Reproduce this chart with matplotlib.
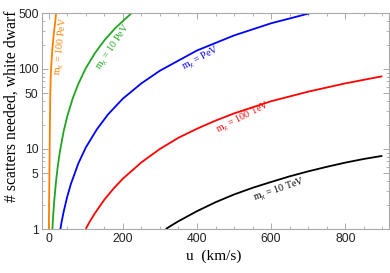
import matplotlib
matplotlib.use("Agg")
import matplotlib.pyplot as plt
from matplotlib.ticker import FixedLocator, NullFormatter

# u (km/s) and number of scatters needed for each dark-matter mass
u_100PeV = [0.5, 1.5, 2.7, 4.0, 5.5, 7.0, 10.0, 14.0, 18.0, 20.0]
n_100PeV = [1.0, 3.0, 10.0, 40.0, 80.0, 110.0, 180.0, 280.0, 400.0, 500.0]

u_10PeV = [10, 11, 12.5, 15, 20, 25, 30, 40, 50, 65, 80, 100, 125, 150, 180, 224]
n_10PeV = [1, 1.21, 1.56, 2.25, 4, 6.3, 9.1, 16.3, 25.5, 43, 65, 102, 158, 227, 325, 500]

u_1PeV = [31.6, 35, 40, 50, 60, 80, 100, 130, 160, 200, 250, 300, 400, 500, 600, 707]
n_1PeV = [1, 1.23, 1.61, 2.53, 3.66, 6.6, 10.4, 17.6, 27, 42.5, 66, 95, 170, 262, 372, 500]

u_100TeV = [100, 110, 125, 150, 175, 200, 250, 300, 350, 400, 450, 500, 600, 700, 800, 900]
n_100TeV = [1, 1.22, 1.58, 2.32, 3.2, 4.25, 6.8, 10, 13.8, 17.9, 22.6, 27.8, 39.5, 52, 66, 81]

u_10TeV = [316, 330, 350, 400, 450, 500, 550, 600, 650, 700, 750, 800, 850, 900]
n_10TeV = [1.0, 1.1, 1.25, 1.67, 2.16, 2.7, 3.27, 3.87, 4.55, 5.25, 5.98, 6.75, 7.5, 8.2]

x_major = [0, 200, 400, 600, 800]
y_major = [1, 5, 10, 50, 100, 500]
y_labels = ["1", "5", "10", "50", "100", "500"]

series = [
    (u_100PeV, n_100PeV, "#ff8000", r"$\mathregular{m_\chi}$ = 100 PeV", (62, 46), 84),
    (u_10PeV, n_10PeV, "#1fa51f", r"$\mathregular{m_\chi}$ = 10 PeV", (114, 47), 56),
    (u_1PeV, n_1PeV, "#0000ff", r"$\mathregular{m_\chi}$ = PeV", (201, 59), 28),
    (u_100TeV, n_100TeV, "#ff0000", r"$\mathregular{m_\chi}$ = 100 TeV", (243, 118), 27),
    (u_10TeV, n_10TeV, "#000000", r"$\mathregular{m_\chi}$ = 10 TeV", (279, 190), 19),
]

plt.rcParams["mathtext.fontset"] = "stix"
fig = plt.figure(figsize=(3.9, 2.73), dpi=100)
W, H = 390, 273
ax = fig.add_axes([42 / W, 1 - 229 / H, (389 - 42) / W, (229 - 13) / H])
ax.set_yscale("log")
ax.set_xlim(-18, 918)
ax.set_ylim(1, 500)

for u, n, c, lab, pos, rot in series:
    ax.plot(u, n, color=c, lw=1.3, solid_capstyle="butt")
    fig.text(pos[0] / W, 1 - pos[1] / H, lab, color=c, rotation=rot,
             rotation_mode="anchor", ha="center", va="center",
             fontsize=7.2, family="Liberation Serif")

# ticks
ax.xaxis.set_major_locator(FixedLocator(x_major))
ax.xaxis.set_minor_locator(FixedLocator([v for v in range(0, 901, 50) if v % 200 != 0]))
ax.yaxis.set_major_locator(FixedLocator(y_major))
ax.set_yticklabels(y_labels)
minor_y = [2, 3, 4, 6, 7, 8, 9, 20, 30, 40, 60, 70, 80, 90, 200, 300, 400]
ax.yaxis.set_minor_locator(FixedLocator(minor_y))
ax.yaxis.set_minor_formatter(NullFormatter())

for sp in ax.spines.values():
    sp.set_color("#aaaaaa")
    sp.set_linewidth(0.8)
ax.tick_params(which="both", direction="in", top=True, right=True,
               colors="#aaaaaa", labelcolor="#222222", labelsize=8.7)
ax.tick_params(which="major", length=4, width=0.7)
ax.tick_params(which="minor", length=2, width=0.6)
ax.tick_params(axis="x", pad=3)
ax.tick_params(axis="y", pad=2.5)
for t in ax.get_xticklabels() + ax.get_yticklabels():
    t.set_family("Liberation Sans")

fig.text(214 / W, 1 - 256 / H, "u  (km/s)", family="Liberation Serif",
         fontsize=11, ha="center", va="center")
fig.text(12 / W, 1 - 106 / H, "# scatters needed, white dwarf",
         family="Liberation Serif", fontsize=11.3, rotation=90,
         ha="center", va="center")

fig.savefig("out.png", dpi=100)
